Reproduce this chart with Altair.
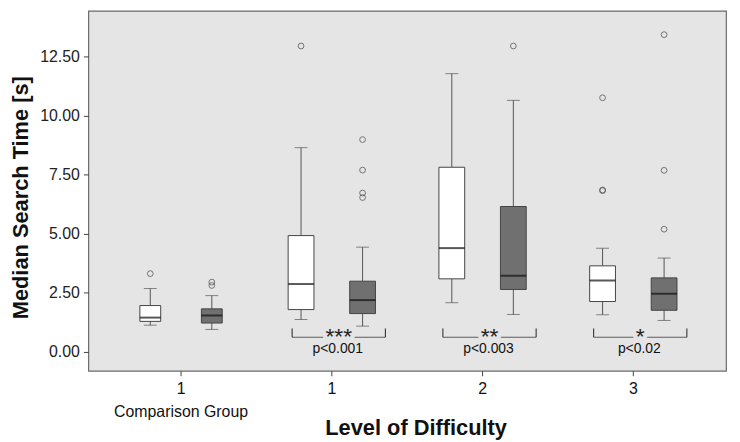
import altair as alt
import pandas as pd

# ---- data ----
groups = ["C", "1", "2", "3"]
conditions = ["A", "B"]

box_group = ["C", "C", "1", "1", "2", "2", "3", "3"]
box_cond = ["A", "B", "A", "B", "A", "B", "A", "B"]
whisker_low = [1.13, 0.95, 1.37, 1.09, 2.08, 1.58, 1.57, 1.33]
q1 = [1.29, 1.22, 1.79, 1.62, 3.09, 2.64, 2.13, 1.76]
median = [1.45, 1.54, 2.87, 2.19, 4.39, 3.22, 3.02, 2.46]
q3 = [1.96, 1.82, 4.92, 2.99, 7.81, 6.15, 3.64, 3.13]
whisker_high = [2.68, 2.38, 8.64, 4.43, 11.77, 10.64, 4.38, 3.97]

outlier_group = ["C", "C", "C", "1", "1", "1", "1", "1", "2", "3", "3", "3", "3", "3", "3"]
outlier_cond = ["A", "B", "B", "A", "B", "B", "B", "B", "B", "A", "A", "A", "B", "B", "B"]
outlier_value = [3.31, 2.95, 2.81, 12.94, 8.98, 7.69, 6.72, 6.53, 12.94,
                 10.75, 6.82, 6.85, 13.42, 7.68, 5.19]

sig_group = ["1", "2", "3"]
sig_stars = ["***", "**", "*"]
sig_p = ["p<0.001", "p<0.003", "p<0.02"]

y_ticks = [0, 2.5, 5, 7.5, 10, 12.5]

boxes = pd.DataFrame({
    "group": box_group, "cond": box_cond, "lo": whisker_low, "q1": q1,
    "med": median, "q3": q3, "hi": whisker_high,
})
outliers = pd.DataFrame({"group": outlier_group, "cond": outlier_cond, "value": outlier_value})
sig = pd.DataFrame({"group": sig_group, "stars": sig_stars, "p": sig_p})

BG = "#e5e5e5"
FONT = "Liberation Sans"

x_enc = alt.X(
    "group:N",
    scale=alt.Scale(domain=groups, paddingOuter=0.115, paddingInner=0),
    axis=alt.Axis(
        labelExpr="datum.value == 'C' ? ['1', 'Comparison Group'] : datum.value",
        labelAngle=0, labelFontSize=16, labelColor="#111", labelPadding=5,
        labelLineHeight=23, tickSize=5, tickColor="#444", domain=False, grid=False,
        title="Level of Difficulty", titleFontSize=22, titleFontWeight="bold",
        titleColor="#111", titleX=330, titleY=64, titleBaseline="alphabetic",
    ),
)
y_scale = alt.Scale(domain=[-0.8, 14.43], nice=False, zero=False)
y_axis = alt.Axis(
    values=y_ticks, format=".2f", labelFontSize=16, labelColor="#222",
    labelPadding=4, tickSize=5, tickColor="#444", domain=False, grid=False,
    title="Median Search Time [s]", titleFontSize=22, titleFontWeight="bold",
    titleColor="#111", titleX=-61, titleY=188, titleBaseline="alphabetic",
    titleAngle=270,
)
xo_enc = alt.XOffset("cond:N", scale=alt.Scale(domain=conditions, paddingOuter=0.225, paddingInner=0))
box_size = alt.condition(alt.datum.group == "C", alt.value(21), alt.value(26))

# significance brackets
br_line = alt.Chart(sig).mark_tick(orient="horizontal", size=94, thickness=1,
                                   xOffset=7, color="#222").encode(
    x=x_enc, y=alt.Y(datum=0.62, scale=y_scale, axis=y_axis))
br_left = alt.Chart(sig).mark_rule(xOffset=-40, color="#222", strokeWidth=1).encode(
    x=x_enc, y=alt.datum(0.62), y2=alt.datum(0.99))
br_right = alt.Chart(sig).mark_rule(xOffset=54, color="#222", strokeWidth=1).encode(
    x=x_enc, y=alt.datum(0.62), y2=alt.datum(0.99))
stars_bg = alt.Chart(sig).mark_text(fontSize=23, dx=7, baseline="alphabetic",
                                    fill=BG, stroke=BG, strokeWidth=8,
                                    strokeJoin="round").encode(
    x=x_enc, y=alt.datum(0.34), text="stars:N")

# boxes
whisk_lo = alt.Chart(boxes).mark_rule(color="#555", strokeWidth=1).encode(
    x=x_enc, xOffset=xo_enc, y="lo:Q", y2="q1:Q")
whisk_hi = alt.Chart(boxes).mark_rule(color="#555", strokeWidth=1).encode(
    x=x_enc, xOffset=xo_enc, y="q3:Q", y2="hi:Q")
cap_lo = alt.Chart(boxes).mark_tick(orient="horizontal", size=13, thickness=1, color="#555").encode(
    x=x_enc, xOffset=xo_enc, y="lo:Q")
cap_hi = alt.Chart(boxes).mark_tick(orient="horizontal", size=13, thickness=1, color="#555").encode(
    x=x_enc, xOffset=xo_enc, y="hi:Q")
box = alt.Chart(boxes).mark_bar(stroke="#444", strokeWidth=1).encode(
    x=x_enc, xOffset=xo_enc, y="q1:Q", y2="q3:Q",
    fill=alt.Fill("cond:N", scale=alt.Scale(domain=conditions, range=["#ffffff", "#707070"]), legend=None),
    size=box_size)
med = alt.Chart(boxes).mark_tick(orient="horizontal", thickness=2, color="#111").encode(
    x=x_enc, xOffset=xo_enc, y="med:Q", size=box_size)
outl = alt.Chart(outliers).mark_point(shape="circle", filled=False, size=34,
                                      color="#444", strokeWidth=1).encode(
    x=x_enc, xOffset=xo_enc, y="value:Q")

stars = alt.Chart(sig).mark_text(fontSize=23, dx=7, baseline="alphabetic", color="#222").encode(
    x=x_enc, y=alt.datum(0.34), text="stars:N")
ptext = alt.Chart(sig).mark_text(fontSize=14, dx=6, baseline="middle", color="#111").encode(
    x=x_enc, y=alt.datum(0.1), text="p:N")

chart = alt.layer(
    br_line, br_left, br_right, stars_bg,
    whisk_lo, whisk_hi, cap_lo, cap_hi, box, med, outl, stars, ptext,
).properties(
    width=643, height=363, autosize="none",
    padding={"left": 81, "top": 1, "right": 6, "bottom": 70},
).configure(font=FONT).configure_view(fill=BG, stroke="#6b6b6b", strokeWidth=1.2)

chart.save("out.html", embed_options={"renderer": "svg", "actions": False})
